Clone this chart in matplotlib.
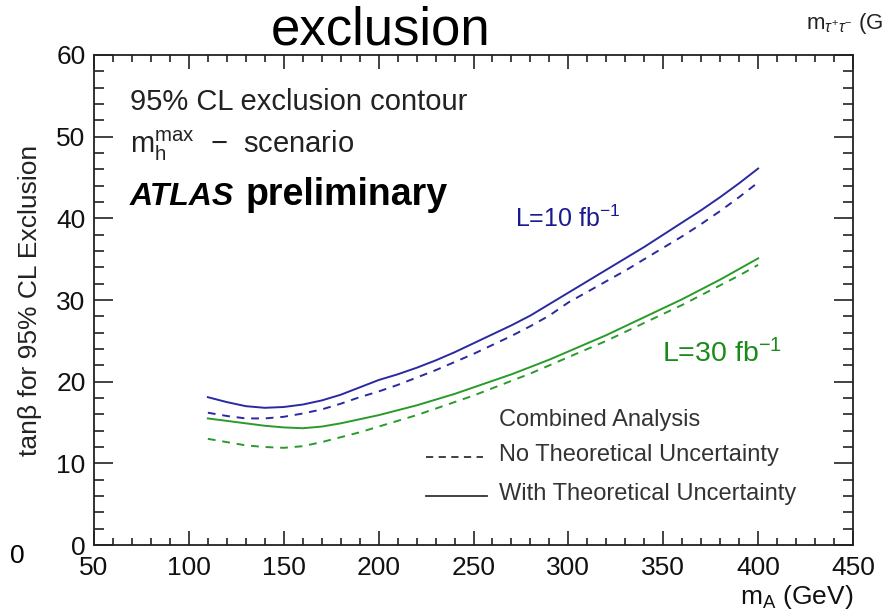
import matplotlib
matplotlib.use("Agg")
import matplotlib.pyplot as plt
from matplotlib.ticker import MultipleLocator

plt.rcParams['font.family'] = ['Liberation Sans', 'DejaVu Sans']
plt.rcParams['mathtext.fontset'] = 'custom'
plt.rcParams['mathtext.rm'] = 'Liberation Sans'
plt.rcParams['mathtext.it'] = 'Liberation Sans:italic'
plt.rcParams['mathtext.bf'] = 'Liberation Sans:bold'

# m_A scan points (GeV)
m_A = [110, 120, 130, 140, 150, 160, 170, 180, 190, 200,
       210, 220, 230, 240, 250, 260, 270, 280, 290, 300,
       310, 320, 330, 340, 350, 360, 370, 380, 390, 400]

# tan(beta) exclusion limits, L = 10 fb^-1
lumi10_with_th = [18.1, 17.5, 17.0, 16.8, 16.9, 17.2, 17.7, 18.4, 19.3, 20.2,
                  20.9, 21.7, 22.6, 23.6, 24.7, 25.8, 26.9, 28.1, 29.5, 30.9,
                  32.3, 33.7, 35.1, 36.5, 38.0, 39.5, 41.0, 42.6, 44.3, 46.1]
lumi10_no_th = [16.2, 15.8, 15.5, 15.5, 15.7, 16.1, 16.6, 17.3, 18.1, 18.8,
                19.6, 20.5, 21.4, 22.4, 23.4, 24.5, 25.6, 26.8, 28.1, 29.7,
                31.0, 32.3, 33.6, 35.0, 36.4, 37.8, 39.3, 40.9, 42.6, 44.4]

# tan(beta) exclusion limits, L = 30 fb^-1
lumi30_with_th = [15.5, 15.2, 14.9, 14.6, 14.4, 14.3, 14.5, 14.9, 15.4, 15.9,
                  16.5, 17.1, 17.8, 18.5, 19.3, 20.1, 20.9, 21.8, 22.7, 23.7,
                  24.7, 25.7, 26.8, 27.9, 29.0, 30.1, 31.3, 32.5, 33.8, 35.1]
lumi30_no_th = [13.0, 12.6, 12.2, 12.0, 11.9, 12.1, 12.6, 13.2, 13.8, 14.5,
                15.2, 15.9, 16.7, 17.5, 18.3, 19.2, 20.1, 21.0, 22.0, 23.0,
                24.0, 25.0, 26.1, 27.2, 28.3, 29.4, 30.6, 31.8, 33.0, 34.3]

blue = '#2a2aa0'
green = '#2a9a2a'

fig = plt.figure(figsize=(8.91, 6.13), dpi=100)
ax = fig.add_axes([0.1055, 0.1109, 0.8519, 0.7994])

ax.plot(m_A, lumi10_with_th, color=blue, lw=1.4)
ax.plot(m_A, lumi10_no_th, color=blue, lw=1.4, ls=(0, (4, 3.5)))
ax.plot(m_A, lumi30_with_th, color=green, lw=1.4)
ax.plot(m_A, lumi30_no_th, color=green, lw=1.4, ls=(0, (4, 3.5)))

ax.set_xlim(50, 450)
ax.set_ylim(0, 60)
ax.xaxis.set_major_locator(MultipleLocator(50))
ax.xaxis.set_minor_locator(MultipleLocator(10))
ax.yaxis.set_major_locator(MultipleLocator(10))
ax.yaxis.set_minor_locator(MultipleLocator(2))
ax.tick_params(axis='both', which='both', direction='in', top=True, right=True,
               color='#222222', width=1.2, labelsize=19, labelcolor='#111111')
ax.tick_params(axis='x', which='major', length=10, pad=8)
ax.tick_params(axis='x', which='minor', length=5)
ax.tick_params(axis='y', which='major', length=14, pad=6)
ax.tick_params(axis='y', which='minor', length=7)
for sp in ax.spines.values():
    sp.set_linewidth(1.3)
    sp.set_color('#222222')

ax.set_ylabel('tanβ for 95% CL Exclusion', fontsize=19, color='#222222',
              labelpad=10)
ax.set_xlabel(r'm$_{\mathregular{A}}$ (GeV)', fontsize=19, color='#111111',
              loc='right', labelpad=2)

# annotations inside the frame
ax.text(0.047, 0.905, '95% CL exclusion contour', transform=ax.transAxes,
        fontsize=21, color='#222222', va='center')
ax.text(0.047, 0.815,
        r'm$_{\mathregular{h}}^{\mathregular{max}}$  $-$  scenario',
        transform=ax.transAxes, fontsize=21, color='#222222', va='center')
ax.text(0.047, 0.694, 'ATLAS', transform=ax.transAxes, fontsize=23,
        fontweight='bold', fontstyle='italic', va='baseline')
ax.text(0.199, 0.694, 'preliminary', transform=ax.transAxes, fontsize=27,
        fontweight='bold', va='baseline')

ax.text(0.555, 0.665, r'L=10 fb$^{-1}$', transform=ax.transAxes, fontsize=18,
        color='#1a1a90', va='center')
ax.text(0.748, 0.39, r'L=30 fb$^{-1}$', transform=ax.transAxes, fontsize=20.5,
        color='#1a8a1a', va='center')

# legend block
ax.text(0.534, 0.255, 'Combined Analysis', transform=ax.transAxes,
        fontsize=17, color='#333333', va='center')
ax.text(0.534, 0.183, 'No Theoretical Uncertainty', transform=ax.transAxes,
        fontsize=17, color='#333333', va='center')
ax.text(0.534, 0.105, 'With Theoretical Uncertainty', transform=ax.transAxes,
        fontsize=17, color='#333333', va='center')
ax.plot([0.438, 0.512], [0.179, 0.179], transform=ax.transAxes,
        color='#333333', lw=1.3, ls=(0, (4, 3)))
ax.plot([0.438, 0.518], [0.1, 0.1], transform=ax.transAxes,
        color='#333333', lw=1.3)

# slide fragments around the plot
fig.text(0.427, 0.951, 'exclusion', fontsize=38, ha='center', va='center')
fig.text(0.905, 0.962, r'm$_{\tau^{+}\tau^{-}}$ (G', fontsize=16,
         ha='left', va='center', color='#222222')
fig.text(0.011, 0.093, '0', fontsize=19, ha='left', va='center')

fig.savefig('out.png', dpi=100)
